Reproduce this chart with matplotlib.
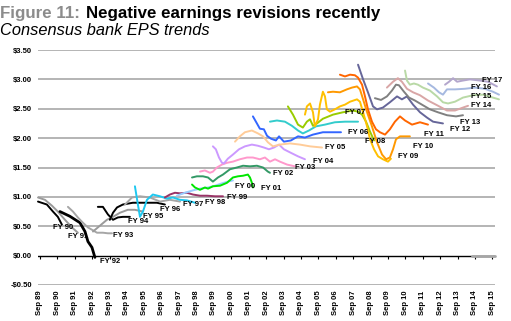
import matplotlib.pyplot as plt
from matplotlib import font_manager

# Consensus EPS estimate paths, one per fiscal year (decimal year, $ per share)
fy90_t = [1989.64, 1990.15, 1990.50, 1990.78, 1991.01]
fy90_eps = [0.92, 0.87, 0.75, 0.66, 0.53]

fy91_t = [1989.64, 1990.04, 1990.44, 1990.78, 1991.19, 1991.59, 1991.93]
fy91_eps = [0.99, 0.95, 0.85, 0.75, 0.61, 0.48, 0.39]

fy92_t = [1990.90, 1991.47, 1992.05, 1992.34, 1992.51, 1992.74, 1992.91]
fy92_eps = [0.75, 0.67, 0.56, 0.41, 0.24, 0.14, -0.03]

fy93_t = [1991.36, 1991.65, 1991.93, 1992.22, 1992.51, 1992.80, 1993.03, 1993.37, 1993.66, 1993.89]
fy93_eps = [0.83, 0.75, 0.65, 0.56, 0.48, 0.43, 0.39, 0.39, 0.38, 0.38]

fy94_t = [1993.08, 1993.37, 1993.66, 1993.95, 1994.23, 1994.52, 1994.92]
fy94_eps = [0.83, 0.83, 0.70, 0.61, 0.65, 0.66, 0.66]

fy95_t = [1992.80, 1993.20, 1993.60, 1993.95, 1994.35, 1994.80, 1995.21, 1995.67]
fy95_eps = [0.41, 0.51, 0.61, 0.66, 0.73, 0.78, 0.78, 0.75]

fy96_t = [1993.77, 1993.95, 1994.18, 1994.52, 1995.09, 1995.90, 1996.47, 1996.93]
fy96_eps = [0.61, 0.73, 0.82, 0.87, 0.90, 0.90, 0.90, 0.87]

fy97_t = [1994.64, 1995.04, 1995.50, 1996.07, 1996.65, 1997.22, 1997.80]
fy97_eps = [0.87, 0.99, 1.01, 0.99, 0.92, 0.95, 0.92]

fy98_t = [1995.21, 1995.38, 1995.50, 1995.67, 1995.90, 1996.24, 1996.65, 1997.05, 1997.39, 1997.80, 1998.20, 1998.66]
fy98_eps = [1.18, 0.87, 0.66, 0.75, 0.95, 1.04, 1.01, 0.97, 0.99, 0.95, 0.94, 0.90]

fy99_t = [1996.93, 1997.22, 1997.51, 1997.80, 1998.20, 1998.54, 1998.95, 1999.35, 1999.81, 2000.27]
fy99_eps = [0.99, 1.04, 1.07, 1.06, 1.07, 1.04, 1.02, 1.02, 1.01, 1.01]

fy00_t = [1997.62, 1998.08, 1998.54, 1998.95, 1999.41, 1999.81, 2000.21, 2000.55, 2000.84]
fy00_eps = [1.02, 1.07, 1.11, 1.14, 1.16, 1.19, 1.23, 1.26, 1.28]

fy01_t = [1998.49, 1998.66, 1998.95, 1999.23, 1999.41, 1999.69, 2000.10, 2000.50, 2000.84,
          2001.13, 2001.42, 2001.70, 2001.82, 2001.93, 2001.99]
fy01_eps = [1.21, 1.16, 1.12, 1.16, 1.14, 1.18, 1.19, 1.24, 1.33, 1.35, 1.36, 1.38, 1.33, 1.24, 1.16]

fy02_t = [1998.49, 1998.77, 1999.12, 1999.41, 1999.69, 1999.98, 2000.27, 2000.67, 2001.07,
          2001.42, 2001.82, 2002.22, 2002.57, 2002.85, 2002.97]
fy02_eps = [1.33, 1.35, 1.35, 1.33, 1.26, 1.33, 1.38, 1.47, 1.50, 1.53, 1.52, 1.53, 1.50, 1.43, 1.41]

fy03_t = [1998.95, 1999.23, 1999.52, 1999.69, 1999.92, 2000.21, 2000.50, 2000.84, 2001.24,
          2001.65, 2001.99, 2002.39, 2002.68, 2002.97, 2003.26, 2003.54, 2003.95, 2004.40]
fy03_eps = [1.43, 1.45, 1.41, 1.43, 1.50, 1.55, 1.58, 1.60, 1.64, 1.67, 1.67, 1.64, 1.67, 1.60,
            1.64, 1.60, 1.55, 1.52]

fy04_t = [1999.69, 1999.86, 2000.04, 2000.21, 2000.33, 2000.55, 2000.84, 2001.19, 2001.53,
          2001.93, 2002.28, 2002.62, 2002.91, 2003.20, 2003.49, 2003.77, 2004.17, 2004.58, 2004.98]
fy04_eps = [1.86, 1.81, 1.67, 1.58, 1.57, 1.65, 1.72, 1.81, 1.86, 1.89, 1.87, 1.84, 1.81, 1.84,
            1.89, 1.81, 1.75, 1.69, 1.64]

fy05_t = [2000.96, 2001.24, 2001.53, 2001.93, 2002.28, 2002.57, 2002.85, 2003.14, 2003.54,
          2004.12, 2004.69, 2005.27, 2005.96]
fy05_eps = [1.94, 2.03, 2.10, 2.13, 2.08, 2.03, 1.93, 1.86, 1.89, 1.91, 1.89, 1.86, 1.84]

fy06_t = [2001.99, 2002.22, 2002.39, 2002.62, 2002.80, 2003.03, 2003.31, 2003.49, 2003.77,
          2004.17, 2004.58, 2004.98, 2005.44, 2006.01, 2006.59, 2007.05]
fy06_eps = [2.37, 2.25, 2.16, 2.15, 2.04, 1.99, 1.96, 2.03, 1.94, 1.96, 2.03, 2.01, 2.06, 2.10,
            2.10, 2.10]

fy07_t = [2002.97, 2003.37, 2003.83, 2004.23, 2004.58, 2004.86, 2005.21, 2005.61, 2006.13,
          2006.70, 2007.28, 2008.03]
fy07_eps = [2.28, 2.30, 2.28, 2.21, 2.13, 2.08, 2.13, 2.20, 2.23, 2.27, 2.28, 2.28]

fy08_t = [2004.00, 2004.29, 2004.58, 2004.86, 2005.09, 2005.27, 2005.44, 2005.67, 2006.01,
          2006.59, 2007.16, 2007.74, 2008.03, 2008.26, 2008.49, 2008.72, 2008.95]
fy08_eps = [2.54, 2.40, 2.23, 2.18, 2.28, 2.32, 2.21, 2.25, 2.33, 2.40, 2.44, 2.47, 2.45, 2.40,
            2.28, 2.11, 1.96]

fy09_t = [2004.98, 2005.09, 2005.27, 2005.44, 2005.55, 2005.73, 2005.84, 2006.01, 2006.13,
          2006.24, 2006.42, 2006.70, 2006.99, 2007.28, 2007.57, 2007.97, 2008.14, 2008.32,
          2008.55, 2008.72, 2008.95, 2009.18, 2009.46, 2009.75, 2009.92]
fy09_eps = [2.40, 2.54, 2.59, 2.44, 2.20, 2.32, 2.57, 2.79, 2.71, 2.49, 2.45, 2.49, 2.54, 2.57,
            2.62, 2.66, 2.62, 2.44, 2.20, 1.98, 1.81, 1.69, 1.64, 1.60, 1.65]

fy10_t = [2006.30, 2006.59, 2006.99, 2007.39, 2007.68, 2007.97, 2008.14, 2008.32, 2008.55,
          2008.83, 2009.12, 2009.41, 2009.64, 2009.86, 2010.04, 2010.21, 2010.44, 2010.73, 2011.01]
fy10_eps = [2.78, 2.79, 2.78, 2.83, 2.86, 2.88, 2.83, 2.66, 2.44, 2.20, 1.93, 1.72, 1.64, 1.67,
            1.81, 1.98, 2.03, 2.03, 2.03]

fy11_t = [2006.99, 2007.28, 2007.57, 2007.85, 2008.03, 2008.26, 2008.43, 2008.60, 2008.83,
          2009.06, 2009.29, 2009.58, 2009.86, 2010.15, 2010.44, 2010.73, 2011.13, 2011.59, 2012.05]
fy11_eps = [3.08, 3.05, 3.08, 3.07, 3.03, 2.91, 2.71, 2.49, 2.28, 2.15, 2.10, 2.06, 2.15, 2.28,
            2.37, 2.30, 2.23, 2.27, 2.23]

fy12_t = [2008.03, 2008.32, 2008.60, 2008.89, 2009.12, 2009.46, 2009.86, 2010.27, 2010.55,
          2010.84, 2011.19, 2011.59, 2011.99, 2012.34, 2012.91]
fy12_eps = [3.25, 3.00, 2.78, 2.54, 2.49, 2.52, 2.61, 2.71, 2.66, 2.71, 2.57, 2.44, 2.35, 2.28, 2.25]

fy13_t = [2009.00, 2009.35, 2009.69, 2009.98, 2010.21, 2010.38, 2010.67, 2010.96, 2011.30,
          2011.70, 2012.16, 2012.62, 2013.14, 2013.66, 2014.06]
fy13_eps = [2.68, 2.65, 2.71, 2.81, 2.91, 2.90, 2.79, 2.69, 2.64, 2.57, 2.49, 2.44, 2.39, 2.37, 2.39]

fy14_t = [2009.69, 2010.04, 2010.32, 2010.55, 2010.84, 2011.19, 2011.59, 2012.05, 2012.57,
          2013.14, 2013.60, 2014.06, 2014.35]
fy14_eps = [2.86, 2.96, 3.02, 2.96, 2.84, 2.78, 2.73, 2.64, 2.56, 2.47, 2.47, 2.52, 2.55]

fy15_t = [2010.73, 2010.84, 2011.01, 2011.24, 2011.47, 2011.76, 2012.16, 2012.57, 2012.91,
          2013.20, 2013.60, 2014.06, 2014.64, 2015.21, 2015.78, 2016.13]
fy15_eps = [3.15, 2.98, 2.91, 2.93, 2.91, 2.86, 2.81, 2.71, 2.61, 2.59, 2.62, 2.69, 2.73, 2.74,
            2.69, 2.66]

fy16_t = [2012.05, 2012.39, 2012.68, 2012.91, 2013.14, 2013.60, 2014.17, 2014.75, 2015.32,
          2015.78, 2016.13]
fy16_eps = [2.93, 2.86, 2.78, 2.74, 2.83, 2.83, 2.84, 2.86, 2.84, 2.79, 2.74]

fy17_t = [2013.03, 2013.26, 2013.49, 2013.72, 2014.06, 2014.46, 2015.04, 2015.50, 2016.01]
fy17_eps = [2.91, 2.96, 3.02, 2.96, 2.98, 3.00, 2.98, 2.96, 2.88]

fy18_t = [2014.58, 2015.90]
fy18_eps = [0.0, 0.0]

# label text and where it sits (year, $)
fy_labels = ["FY 90", "FY 91", "FY 92", "FY 93", "FY 94", "FY 95", "FY 96", "FY 97", "FY 98",
             "FY 99", "FY 00", "FY 01", "FY 02", "FY 03", "FY 04", "FY 05", "FY 06", "FY 07",
             "FY 08", "FY 09", "FY 10", "FY 11", "FY 12", "FY 13", "FY 14", "FY 15", "FY 16",
             "FY 17"]
label_t = [1990.50, 1991.36, 1993.20, 1993.95, 1994.80, 1995.67, 1996.65, 1997.97, 1999.23,
           2000.50, 2000.96, 2002.45, 2003.14, 2004.40, 2005.44, 2006.13, 2007.45, 2007.28,
           2008.43, 2010.32, 2011.19, 2011.82, 2013.31, 2013.89, 2014.52, 2014.52, 2014.52,
           2015.15]
label_eps = [0.48, 0.32, -0.10, 0.34, 0.58, 0.66, 0.78, 0.87, 0.90, 0.99, 1.17, 1.14, 1.40,
             1.50, 1.60, 1.84, 2.10, 2.44, 1.94, 1.69, 1.86, 2.06, 2.15, 2.27, 2.55, 2.70, 2.86,
             2.98]

series = [
    (fy90_t, fy90_eps, "black", 1.4),
    (fy91_t, fy91_eps, "#9a9a9a", 1.4),
    (fy92_t, fy92_eps, "black", 2.0),
    (fy93_t, fy93_eps, "#a6a6a6", 1.4),
    (fy94_t, fy94_eps, "black", 1.4),
    (fy95_t, fy95_eps, "#9a9a9a", 1.4),
    (fy96_t, fy96_eps, "black", 1.4),
    (fy97_t, fy97_eps, "#a6a6a6", 1.4),
    (fy98_t, fy98_eps, "#1ec8f0", 1.4),
    (fy99_t, fy99_eps, "#993366", 1.4),
    (fy00_t, fy00_eps, "#99ccff", 1.4),
    (fy01_t, fy01_eps, "#00e600", 1.4),
    (fy02_t, fy02_eps, "#339966", 1.4),
    (fy03_t, fy03_eps, "#ff99cc", 1.4),
    (fy04_t, fy04_eps, "#cc99ff", 1.4),
    (fy05_t, fy05_eps, "#ffcc99", 1.4),
    (fy06_t, fy06_eps, "#3366ff", 1.4),
    (fy07_t, fy07_eps, "#33cccc", 1.4),
    (fy08_t, fy08_eps, "#99cc00", 1.4),
    (fy09_t, fy09_eps, "#ffc000", 1.4),
    (fy10_t, fy10_eps, "#ff9900", 1.4),
    (fy11_t, fy11_eps, "#ff6600", 1.4),
    (fy12_t, fy12_eps, "#666699", 1.4),
    (fy13_t, fy13_eps, "#808080", 1.4),
    (fy14_t, fy14_eps, "#d9a6a6", 1.4),
    (fy15_t, fy15_eps, "#b9d9a6", 1.4),
    (fy16_t, fy16_eps, "#a6b9e0", 1.4),
    (fy17_t, fy17_eps, "#b3a6cc", 1.4),
    (fy18_t, fy18_eps, "#a6a6a6", 2.0),
]

tick_years = list(range(89, 100)) + list(range(0, 16))
tick_pos = [1989.75 + i for i in range(len(tick_years))]
tick_text = ["Sep %02d" % y for y in tick_years]

grid_levels = [3.5, 3.0, 2.5, 2.0, 1.5, 1.0, 0.5, -0.5]

installed = {f.name for f in font_manager.fontManager.ttflist}
narrow = "Liberation Sans Narrow" if "Liberation Sans Narrow" in installed else "Liberation Sans"
plt.rcParams["font.family"] = "Liberation Sans"

fig = plt.figure(figsize=(5.11, 3.21), dpi=100)
ax = fig.add_axes([38 / 511, 36 / 321, 457 / 511, 235 / 321])

for lvl in grid_levels:
    ax.axhline(lvl, color="#a0a0a0", lw=1.1, zorder=1)
ax.axhline(0, color="black", lw=1.0, zorder=2)
ax.vlines(tick_pos, -0.05, 0, color="black", lw=0.8, zorder=2)

for t, eps, col, lw in series:
    ax.plot(t, eps, color=col, lw=lw, solid_capstyle="round", clip_on=False, zorder=3)

for txt, t, e in zip(fy_labels, label_t, label_eps):
    ax.text(t, e, txt, fontsize=5.5, fontweight="bold", family=narrow,
            ha="left", va="center", zorder=4)

ax.set_xlim(1989.64, 2015.9)
ax.set_ylim(-0.5, 3.5)
ax.set_yticks([3.5, 3.0, 2.5, 2.0, 1.5, 1.0, 0.5, 0.0, -0.5])
ax.set_yticklabels(["$3.50", "$3.00", "$2.50", "$2.00", "$1.50", "$1.00", "$0.50", "$0.00",
                    "-$0.50"], fontsize=5.5, fontweight="bold", family=narrow)
ax.set_xticks(tick_pos)
ax.set_xticklabels(tick_text, rotation=90, fontsize=5.5, fontweight="bold", family=narrow)
ax.tick_params(length=0, pad=4)
ax.tick_params(axis="x", pad=4)
for s in ax.spines.values():
    s.set_visible(False)

fig.text(0.0, 1 - 18 / 321, "Figure 11:", fontsize=12.2, fontweight="bold", color="#8c8c8c")
fig.text(86 / 511, 1 - 18 / 321, "Negative earnings revisions recently", fontsize=12.2,
         fontweight="bold", color="black")
fig.text(0.0, 1 - 35 / 321, "Consensus bank EPS trends", fontsize=11.8, fontstyle="italic")

fig.savefig("out.png", dpi=100)
